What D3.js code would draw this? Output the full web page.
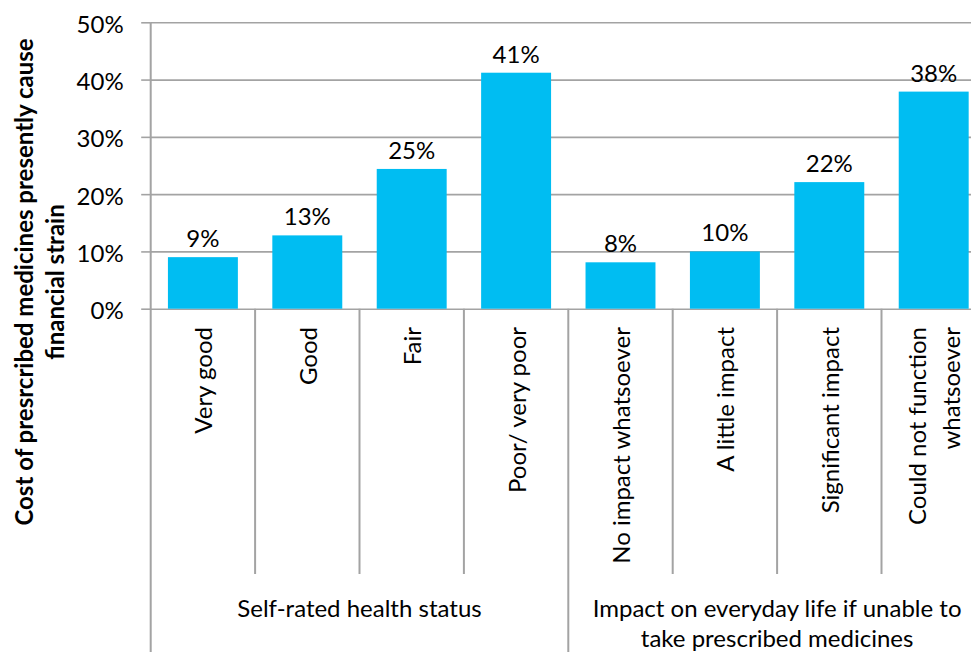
<!DOCTYPE html>
<html>
<head>
<meta charset="utf-8">
<script src="https://cdn.jsdelivr.net/npm/d3@7"></script>
<style>
  html, body { margin: 0; padding: 0; background: #fff; }
  svg { display: block; font-family: Lato, "Open Sans", sans-serif; }
</style>
</head>
<body>
<script>
// ---- data ----
const categories = ["Very good", "Good", "Fair", "Poor/ very poor",
  "No impact whatsoever", "A little impact", "Significant impact", "Could not function whatsoever"];
const categoryLines = [["Very good"], ["Good"], ["Fair"], ["Poor/ very poor"],
  ["No impact whatsoever"], ["A little impact"], ["Significant impact"], ["Could not function", "whatsoever"]];
const values = [9.0, 12.8, 24.4, 41.2, 8.1, 10.0, 22.1, 37.9];
const valueLabels = ["9%", "13%", "25%", "41%", "8%", "10%", "22%", "38%"];
const groupNames = ["Self-rated health status", "Impact on everyday life if unable to take prescribed medicines"];
const groupLines = [["Self-rated health status"], ["Impact on everyday life if unable to", "take prescribed medicines"]];
const groupSizes = [4, 4];
const yTicks = [0, 10, 20, 30, 40, 50];
const yTitleLines = ["Cost of presrcribed medicines presently cause", "financial strain"];

// ---- layout ----
const W = 971, H = 652;
const plot = { left: 150.7, right: 985.9, top: 22.3, bottom: 308.7 };
const barColor = "#00BDF2";
const gridColor = "#A3A3A3";
const fs = 24;

const svg = d3.select("body").append("svg").attr("width", W).attr("height", H);

const x = d3.scaleBand().domain(categories).range([plot.left, plot.right])
  .paddingInner(0.33).paddingOuter(0.165);
const y = d3.scaleLinear().domain([0, 50]).range([plot.bottom, plot.top]);

// gridlines + y ticks
const yAxis = d3.axisLeft(y).tickValues(yTicks).tickFormat(d => d + "%")
  .tickSize(-(plot.right - plot.left)).tickSizeOuter(0).tickPadding(27);
const gy = svg.append("g").attr("transform", `translate(${plot.left},0)`).call(yAxis);
gy.select(".domain").remove();
gy.selectAll(".tick line").attr("stroke", gridColor).attr("stroke-width", 1.6);
gy.selectAll(".tick").append("line").attr("x1", -9.5).attr("x2", 0)
  .attr("stroke", gridColor).attr("stroke-width", 1.6);
gy.selectAll(".tick text").attr("fill", "#000").attr("font-size", fs)
  .attr("font-family", "Lato, sans-serif").attr("dy", "0.42em");

// bars
svg.append("g").selectAll("rect").data(values).join("rect")
  .attr("x", (d, i) => x(categories[i]))
  .attr("width", x.bandwidth())
  .attr("y", d => y(d))
  .attr("height", d => y(0) - y(d))
  .attr("fill", barColor);

// value labels
svg.append("g").selectAll("text").data(values).join("text")
  .attr("x", (d, i) => x(categories[i]) + x.bandwidth() / 2)
  .attr("y", d => y(d) - 10)
  .attr("text-anchor", "middle")
  .attr("font-size", fs)
  .attr("fill", "#000")
  .text((d, i) => valueLabels[i]);

// left axis line
svg.append("line").attr("x1", plot.left).attr("x2", plot.left)
  .attr("y1", plot.top).attr("y2", H)
  .attr("stroke", gridColor).attr("stroke-width", 2);

// category separators
const step = x.step();
const sepBottomInner = 574;
let idx = 0;
const groupBounds = [0];
groupSizes.forEach(s => { idx += s; groupBounds.push(idx); });
for (let k = 1; k <= categories.length; k++) {
  const xx = plot.left + k * step;
  const isGroup = groupBounds.includes(k);
  svg.append("line").attr("x1", xx).attr("x2", xx)
    .attr("y1", plot.bottom).attr("y2", isGroup ? H : sepBottomInner)
    .attr("stroke", gridColor).attr("stroke-width", 2);
}

// category labels (rotated)
const catG = svg.append("g");
categoryLines.forEach((lines, i) => {
  const cx = x(categories[i]) + x.bandwidth() / 2 + 1;
  const n = lines.length;
  const lh = 34;
  lines.forEach((ln, j) => {
    const off = (j - (n - 1) / 2) * lh;
    catG.append("text")
      .attr("transform", `translate(${cx + off},327) rotate(-90)`)
      .attr("text-anchor", "end")
      .attr("dy", "0.35em")
      .attr("font-size", fs)
      .attr("fill", "#000")
      .text(ln);
  });
});

// group labels
let start = 0;
groupSizes.forEach((s, g) => {
  const gx = plot.left + (start + s / 2) * step;
  groupLines[g].forEach((ln, j) => {
    svg.append("text").attr("x", gx).attr("y", 617 + j * 30)
      .attr("text-anchor", "middle").attr("font-size", fs).attr("fill", "#000")
      .text(ln);
  });
  start += s;
});

// y-axis title
const tcy = 282;
yTitleLines.forEach((ln, j) => {
  svg.append("text")
    .attr("transform", `translate(${33 + j * 31},${tcy}) rotate(-90)`)
    .attr("text-anchor", "middle")
    .attr("font-size", 24)
    .attr("font-weight", "bold")
    .attr("fill", "#000")
    .text(ln);
});
</script>
</body>
</html>
